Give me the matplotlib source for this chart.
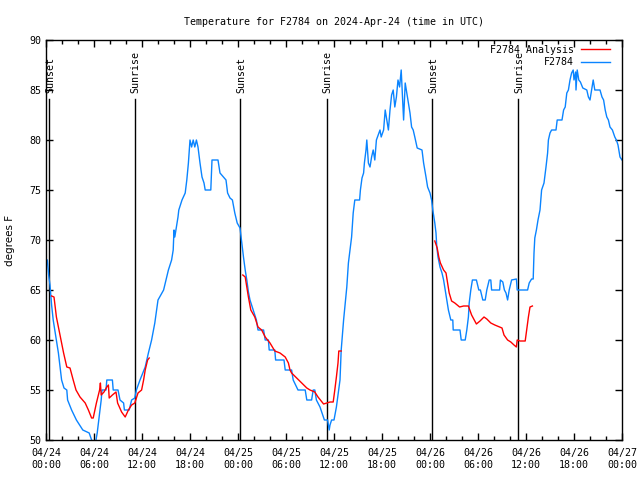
import matplotlib
matplotlib.use("Agg")
import matplotlib.pyplot as plt
import matplotlib.dates as mdates
import pandas as pd

# hours after 2024-04-24 00:00 UTC and temperature (F)
obs_hours = [0.0, 0.17, 0.33, 0.5, 0.7, 0.9, 1.2, 1.55, 1.95, 2.25, 2.6, 2.7, 3.2, 3.8, 4.6,
             5.4, 5.7, 5.85, 6.1, 6.25, 6.4, 6.7, 6.9, 7.0, 7.5, 7.6, 8.3, 8.4, 9.0, 9.25,
             9.7, 9.8, 10.4, 10.7, 11.1, 11.3, 11.75, 12.4, 12.8, 13.2, 13.6, 14.0, 14.7,
             15.3, 15.7, 15.9, 16.0, 16.1, 16.5, 16.6, 17.0, 17.4, 17.6, 17.8, 18.0, 18.2,
             18.4, 18.6, 18.8, 19.0, 19.25, 19.5, 19.75, 19.9, 20.6, 20.75, 21.5, 21.75,
             22.5, 22.7, 23.0, 23.3, 23.6, 23.9, 24.25, 24.5, 24.7, 24.9, 25.1, 25.3, 25.5,
             25.9, 26.3, 26.5, 27.2, 27.4, 27.8, 27.9, 28.6, 28.7, 29.75, 29.9, 30.7, 30.9,
             31.5, 32.4, 32.6, 33.2, 33.4, 33.6, 33.8, 34.25, 34.5, 34.8, 35.2, 35.4, 35.5,
             35.7, 36.0, 36.3, 36.75, 36.9, 37.2, 37.4, 37.6, 37.8, 38.0, 38.2, 38.4, 38.6,
             39.2, 39.3, 39.5, 39.7, 39.8, 40.0, 40.1, 40.3, 40.5, 40.7, 40.9, 41.1, 41.3,
             41.75, 41.9, 42.2, 42.4, 42.6, 42.8, 43.0, 43.2, 43.4, 43.6, 43.8, 44.0, 44.2,
             44.4, 44.5, 44.7, 44.9, 45.1, 45.3, 45.5, 45.7, 45.9, 46.1, 46.4, 47.0, 47.2,
             47.5, 47.7, 48.0, 48.2, 48.35, 48.6, 48.75, 48.85, 49.0, 49.25, 49.5, 49.7,
             49.9, 50.1, 50.3, 50.6, 50.85, 50.9, 51.75, 51.9, 52.4, 52.6, 52.8, 52.9, 53.1,
             53.3, 53.8, 54.1, 54.3, 54.6, 54.9, 55.1, 55.4, 55.6, 55.7, 56.7, 56.8, 57.1,
             57.3, 57.5, 57.7, 57.9, 58.2, 58.8, 58.9, 60.2, 60.4, 60.7, 60.9, 61.0, 61.1,
             61.3, 61.5, 61.75, 61.95, 62.25, 62.5, 62.7, 62.8, 63.0, 63.2, 63.75, 63.9,
             64.5, 64.7, 64.9, 65.1, 65.3, 65.5, 65.7, 65.9, 66.0, 66.2, 66.25, 66.4, 66.6,
             66.8, 67.1, 67.6, 67.8, 68.0, 68.2, 68.4, 68.6, 69.25, 69.5, 69.7, 69.9, 70.1,
             70.3, 70.5, 70.8, 71.1, 71.3, 71.5, 71.75, 72.0]
obs_temp = [68.0, 68.0, 66.5, 65.5, 63.5, 62.0, 60.5, 58.7, 56.0, 55.2, 55.0, 54.0, 53.0, 52.0, 51.0,
            50.7, 50.0, 49.5, 49.5, 50.0, 50.7, 52.7, 54.0, 55.0, 55.0, 56.0, 56.0, 55.0, 55.0, 54.0,
            53.7, 53.0, 53.0, 54.0, 54.2, 55.0, 56.0, 57.3, 58.7, 60.0, 61.7, 64.0, 65.0,
            67.0, 68.0, 69.0, 71.0, 70.3, 72.3, 73.0, 74.0, 74.7, 76.0, 77.7, 80.0, 79.3,
            80.0, 79.3, 80.0, 79.3, 77.7, 76.3, 75.7, 75.0, 75.0, 78.0, 78.0, 76.7,
            76.0, 74.7, 74.2, 74.0, 72.7, 71.7, 71.2, 69.5, 68.2, 67.0, 66.0, 64.8, 64.0,
            63.0, 62.0, 61.0, 61.0, 60.0, 60.0, 59.0, 59.0, 58.0, 58.0, 57.0, 57.0, 56.0,
            55.0, 55.0, 54.0, 54.0, 55.0, 55.0, 54.0, 53.3, 52.7, 52.0, 52.0, 51.0, 51.5,
            52.0, 52.0, 53.3, 56.0, 59.0, 62.0, 63.7, 65.3, 67.7, 69.0, 70.3, 72.7, 74.0,
            74.0, 75.0, 76.2, 76.7, 77.7, 79.0, 80.0, 77.7, 77.3, 78.3, 79.0, 78.0, 80.0,
            81.0, 80.3, 81.0, 83.0, 82.0, 81.0, 83.0, 84.5, 85.0, 83.3, 84.3, 86.0, 85.3,
            87.0, 85.3, 82.0, 85.7, 84.7, 83.7, 82.7, 81.3, 81.0, 80.3, 79.2, 79.0, 77.7,
            76.3, 75.3, 74.7, 74.0, 73.0, 71.7, 70.7, 69.3, 68.3, 67.3, 66.7, 66.0,
            65.0, 64.0, 63.0, 62.0, 62.0, 61.0, 61.0, 60.0, 60.0, 61.0, 62.3, 63.7, 65.0,
            66.0, 66.0, 65.0, 65.0, 64.0, 64.0, 65.0, 66.0, 66.0, 65.0, 65.0, 66.0, 65.8,
            65.0, 64.7, 64.0, 65.0, 66.0, 66.1, 65.0, 65.0, 65.7, 66.1, 66.1, 68.7, 70.2,
            71.0, 72.0, 73.0, 75.0, 75.7, 77.3, 78.7, 80.0, 80.7, 81.0, 81.0, 82.0,
            82.0, 83.0, 83.3, 84.7, 85.0, 86.0, 86.7, 87.0, 86.0, 86.8, 85.0, 87.0, 86.0,
            85.8, 85.2, 85.0, 84.3, 84.0, 85.0, 86.0, 85.0, 85.0, 84.3, 84.0, 83.0, 82.3,
            82.0, 81.3, 81.0, 80.3, 80.0, 79.5, 78.3, 78.0]

# analysis series, three separate segments
ana1_hours = [0.7, 1.0, 1.3, 1.75, 2.2, 2.6, 3.0, 3.4, 3.75, 4.25, 4.9, 5.3, 5.7, 5.9, 6.3, 6.7,
              6.8, 6.9, 7.25, 7.6, 7.8, 7.9, 8.3, 8.75, 8.95, 9.45, 9.9, 10.3, 10.7, 11.1,
              11.5, 11.95, 12.2, 12.4, 12.7, 12.9]
ana1_temp = [64.4, 64.3, 62.3, 60.5, 58.7, 57.3, 57.2, 56.0, 55.0, 54.3, 53.7, 53.0, 52.2, 52.2, 53.7, 55.0,
             55.7, 54.5, 54.8, 55.3, 55.5, 54.2, 54.5, 54.8, 53.7, 52.8, 52.3, 53.0, 53.5, 53.7,
             54.7, 55.0, 56.0, 57.0, 58.0, 58.2]
ana2_hours = [24.6, 24.9, 25.1, 25.3, 25.6, 26.1, 26.5, 26.96, 27.4, 28.0, 28.6, 29.25, 29.9,
              30.3, 30.5, 30.7, 32.6, 33.0, 33.6, 34.0, 34.3, 34.7, 35.1, 35.5, 35.9, 36.1,
              36.3, 36.5, 36.6, 36.9]
ana2_temp = [66.5, 66.3, 65.3, 64.3, 63.0, 62.3, 61.3, 61.0, 60.3, 59.7, 58.9, 58.7, 58.3,
             57.7, 57.0, 56.7, 55.2, 55.0, 54.8, 54.3, 54.0, 53.6, 53.7, 53.8, 53.8, 55.0,
             56.3, 57.7, 58.9, 58.9]
ana3_hours = [48.6, 48.9, 49.1, 49.3, 49.7, 50.0, 50.2, 50.4, 50.7, 51.1, 51.7, 52.2, 52.8,
              53.2, 53.8, 54.25, 54.75, 55.1, 55.6, 56.1, 56.7, 57.0, 57.25, 57.7, 58.1,
              58.5, 58.8, 58.9, 59.25, 59.9, 60.0, 60.2, 60.3, 60.5, 60.8]
ana3_temp = [69.9, 69.2, 68.3, 67.7, 67.0, 66.7, 65.7, 64.7, 63.9, 63.7, 63.3, 63.4, 63.4,
             62.5, 61.6, 61.9, 62.3, 62.1, 61.7, 61.5, 61.3, 61.2, 60.5, 60.0, 59.8,
             59.5, 59.3, 60.0, 59.9, 59.9, 60.5, 61.7, 62.3, 63.3, 63.4]

event_hours = [0.4, 11.1, 24.25, 35.1, 48.25, 59.0]
event_names = ["Sunset", "Sunrise", "Sunset", "Sunrise", "Sunset", "Sunrise"]

start = pd.Timestamp("2024-04-24 00:00")


def to_time(hours):
    return start + pd.to_timedelta(hours, unit="h")


fs = 7.2
plt.rcParams["font.family"] = "DejaVu Sans Mono"
plt.rcParams["font.size"] = fs

fig = plt.figure(figsize=(6.4, 4.8), dpi=100)
ax = fig.add_axes([46 / 640, 40 / 480, 576 / 640, 400 / 480])

for h, name in zip(event_hours, event_names):
    t = to_time(h)
    ax.plot([t, t], [50, 84.1], color="black", lw=1, zorder=1)
    ax.text(t + pd.Timedelta(minutes=8), 84.7, name, rotation=90, ha="center", va="bottom",
            fontsize=fs)

ax.plot(to_time(ana1_hours), ana1_temp, color="#ff0000", lw=1, label="F2784 Analysis", zorder=3)
ax.plot(to_time(ana2_hours), ana2_temp, color="#ff0000", lw=1, zorder=3)
ax.plot(to_time(ana3_hours), ana3_temp, color="#ff0000", lw=1, zorder=3)
ax.plot(to_time(obs_hours), obs_temp, color="#0a84ff", lw=1, label="F2784", zorder=2)

ax.set_xlim(start, start + pd.Timedelta(hours=72))
ax.set_ylim(50, 90)
ax.set_yticks(range(50, 91, 5))
ax.xaxis.set_major_locator(mdates.HourLocator(byhour=[0, 6, 12, 18]))
ax.xaxis.set_minor_locator(mdates.HourLocator(byhour=range(0, 24, 2)))
ax.xaxis.set_major_formatter(mdates.DateFormatter("%m/%d\n%H:%M"))
ax.tick_params(which="both", direction="in", top=True, right=True, labelsize=fs)
ax.tick_params(which="major", length=5, width=1)
ax.tick_params(which="minor", length=3, width=1)
ax.tick_params(axis="x", pad=6)
for s in ax.spines.values():
    s.set_linewidth(1)

ax.set_ylabel("degrees F", fontsize=7.5, family="DejaVu Sans")
ax.yaxis.set_label_coords(-31 / 576, 0.5)
ax.set_title("Temperature for F2784 on 2024-Apr-24 (time in UTC)", fontsize=fs, pad=11)
ax.legend(loc="upper right", bbox_to_anchor=(1, 1.0175), frameon=False, markerfirst=False,
          handlelength=2.9, fontsize=fs, borderaxespad=0.8, labelspacing=0.25,
          handletextpad=0.7)

plt.savefig("out.png", dpi=100)
